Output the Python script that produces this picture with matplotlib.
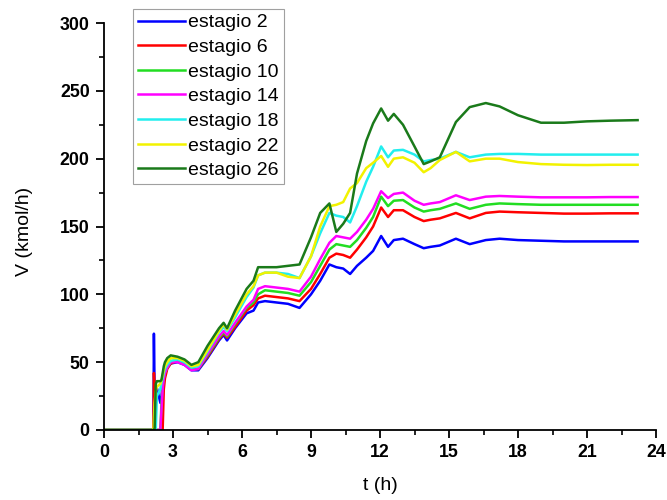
import matplotlib
matplotlib.use("Agg")
import matplotlib.pyplot as plt
from matplotlib.ticker import MultipleLocator

plt.rcParams["font.family"] = ["Liberation Sans", "DejaVu Sans"]

# common time grid (h)
t = [0, 2.1, 2.15, 2.17, 2.2, 2.25, 2.3, 2.45, 2.5, 2.55, 2.6, 2.65, 2.75, 2.9,
     3.2, 3.5, 3.8, 4.1, 4.5, 5.0, 5.2, 5.35, 5.7, 6.2, 6.5, 6.7, 7.0, 7.5, 8.0,
     8.5, 9.0, 9.4, 9.8, 10.1, 10.4, 10.7, 11.0, 11.4, 11.7, 12.05, 12.35, 12.6,
     13.0, 13.5, 13.9, 14.2, 14.6, 15.3, 15.9, 16.6, 17.2, 18.0, 19.0, 20.0,
     21.0, 22.0, 23.2]

estagio_2 = [0, 0, 0, 71, 30, 31, 31, 20, 25, 35, 40, 43, 46, 49,
             50, 48, 44, 44, 53, 66, 70, 66, 75, 86, 88, 94, 95, 94, 93,
             90, 100, 110, 122, 120, 119, 115, 121, 127, 132, 143, 135, 140,
             141, 137, 134, 135, 136, 141, 137, 140, 141, 140, 139.5, 139,
             139, 139, 139]
estagio_6 = [0, 0, 0, 42, 32, 0, 0, 0, 0, 0, 30, 38, 45, 49,
             51, 49, 45, 45, 54, 67, 71, 68, 76, 88, 92, 97, 99, 98, 97,
             95, 104, 115, 127, 130, 129, 127, 133, 142, 150, 164, 157, 162,
             162, 157, 154, 155, 156, 160, 156, 160, 161, 160.5, 160, 159.5,
             159.5, 159.7, 159.7]
estagio_10 = [0, 0, 0, 0, 0, 0, 0, 0, 20, 32, 38, 42, 46, 50,
              51, 49, 45, 45, 55, 68, 72, 69, 78, 90, 94, 100, 103, 102, 101,
              99, 109, 121, 133, 137, 136, 135, 140, 149, 157, 172, 165, 169,
              169.5, 164, 161, 162, 163, 167, 163, 166, 167, 166.5, 166, 166,
              166, 166, 166]
estagio_14 = [0, 0, 0, 0, 0, 0, 0, 0, 15, 30, 38, 42, 46, 50,
              50, 48, 44, 45, 56, 69, 73, 70, 79, 91, 96, 104, 106, 105, 104,
              102, 113, 126, 138, 143, 142, 141, 146, 155, 163, 176, 171, 174,
              175, 169, 166, 167, 168, 173, 169.5, 172, 172.5, 172, 171.5, 171.5,
              171.5, 171.7, 171.7]
estagio_18 = [0, 0, 0, 0, 0, 0, 25, 30, 35, 38, 42, 45, 48, 51,
              52, 50, 46, 47, 58, 72, 76, 73, 83, 98, 105, 114, 116, 116, 115,
              112, 128, 145, 160, 158, 157, 153, 165, 183, 194, 209, 201, 206,
              206.5, 203, 198, 199, 200, 205, 201, 203, 203.5, 203.5, 203, 203,
              203, 203, 203]
estagio_22 = [0, 0, 0, 10, 20, 28, 32, 34, 37, 40, 44, 47, 50, 53,
              53, 51, 47, 48, 59, 73, 78, 74, 85, 100, 106, 114, 116, 116, 113,
              112, 128, 150, 165, 166, 168, 178, 182, 193, 197, 202, 194, 200,
              201, 197, 190, 193, 199, 205, 198, 200, 200, 197.5, 196, 195.5,
              195.3, 195.5, 195.5]
estagio_26 = [0, 0, 0, 0, 0, 34, 36, 36, 37, 42, 47, 50, 53, 55,
              54, 52, 48, 50, 62, 75, 79, 75, 88, 104, 110, 120, 120, 120, 121,
              122, 142, 160, 167, 146, 152, 160, 189, 213, 226, 237, 228, 233,
              225, 209, 196, 198, 201, 227, 238, 241, 238.5, 232, 226.5, 226.5,
              227.5, 228, 228.4]

labels = ["estagio 2", "estagio 6", "estagio 10", "estagio 14",
          "estagio 18", "estagio 22", "estagio 26"]
colors = ["#0000FF", "#FF0000", "#22DD22", "#FF00FF", "#22EEEE", "#F2F200", "#1A7A1A"]
series = [estagio_2, estagio_6, estagio_10, estagio_14, estagio_18, estagio_22, estagio_26]

fig = plt.figure(figsize=(6.67, 5.0), dpi=100)
ax = fig.add_axes([104/667, 70/500, (656-104)/667, (430-23)/500])

for y, c, lab in zip(series, colors, labels):
    ax.plot(t, y, color=c, lw=1.8, label=lab)

ax.set_xlim(0, 24)
ax.set_ylim(0, 300)
ax.xaxis.set_major_locator(MultipleLocator(3))
ax.xaxis.set_minor_locator(MultipleLocator(1.5))
ax.yaxis.set_major_locator(MultipleLocator(50))
ax.yaxis.set_minor_locator(MultipleLocator(25))
for s in ["top", "right"]:
    ax.spines[s].set_visible(False)
for s in ["left", "bottom"]:
    ax.spines[s].set_linewidth(1.3)
ax.tick_params(which="major", direction="out", length=5.8, width=1.3, labelsize=12.8, pad=4.5)
ax.tick_params(which="minor", direction="out", length=3.5, width=1.2)
for lbl in ax.get_xticklabels() + ax.get_yticklabels():
    lbl.set_fontweight("bold")

ax.set_xlabel("t (h)", fontsize=14)
ax.set_ylabel("V (kmol/h)", fontsize=14)
ax.xaxis.set_label_coords(0.5, -0.115)
ax.yaxis.set_label_coords(-0.129, 0.488)

leg = ax.legend(loc="upper left", bbox_to_anchor=(133/667, 1 - 9/500),
                bbox_transform=fig.transFigure, fontsize=14, frameon=True,
                fancybox=False, edgecolor="#888888", borderaxespad=0,
                handlelength=2.4, handletextpad=0.2, labelspacing=0.36,
                borderpad=0.25)
leg.get_frame().set_linewidth(0.8)

fig.savefig("out.png", dpi=100)
